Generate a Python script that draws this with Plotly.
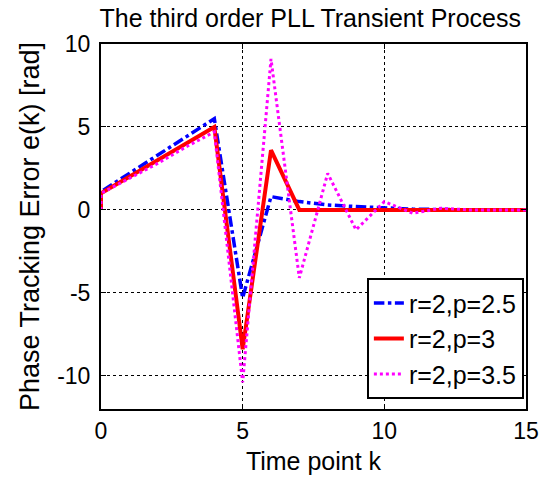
import plotly.graph_objects as go

k = [0, 0, 1, 2, 3, 4, 5, 6, 7, 8, 9, 10, 11, 12, 13, 14, 15]
e_p25 = [0, 1.1, 2.2, 3.3, 4.4, 5.5, -5.3, 0.8, 0.5, 0.3, 0.2, 0.1, 0.05, 0.02, 0.0, 0.0, 0.0]
e_p3 = [0, 1.0, 2.0, 3.0, 4.0, 5.0, -8.4, 3.6, 0.0, 0.0, 0.0, 0.0, 0.0, 0.0, 0.0, 0.0, 0.0]
e_p35 = [0, 1.0, 1.9, 2.8, 3.8, 4.7, -10.4, 9.1, -4.1, 2.2, -1.2, 0.5, -0.2, 0.1, 0.0, 0.0, 0.0]
names = ["r=2,p=2.5", "r=2,p=3", "r=2,p=3.5"]
x_ticks = [0, 5, 10, 15]
y_ticks = [-10, -5, 0, 5, 10]
y_ticktext = ["-10", "-5", "0", "5", "10"]

fig = go.Figure()
fig.add_trace(go.Scatter(x=k, y=e_p25, mode="lines", name=names[0],
                         line=dict(color="#0000ff", width=3.5, dash="dashdot")))
fig.add_trace(go.Scatter(x=k, y=e_p3, mode="lines", name=names[1],
                         line=dict(color="#ff0000", width=4)))
fig.add_trace(go.Scatter(x=k, y=e_p35, mode="lines", name=names[2],
                         line=dict(color="#ff00ff", width=3, dash="dot")))

axis_common = dict(showline=True, linecolor="black", linewidth=2, mirror="ticks",
                   ticks="inside", ticklen=5, tickcolor="black",
                   showgrid=True, gridcolor="black", gridwidth=1, griddash="dot",
                   zeroline=False, tickfont=dict(size=23, color="black"))

fig.update_xaxes(range=[0, 15], tickvals=x_ticks,
                 title=dict(text="Time point k", font=dict(size=25, color="black"), standoff=10),
                 **axis_common)
fig.update_yaxes(range=[-12, 10], tickvals=y_ticks, ticktext=y_ticktext,
                 ticklabelstandoff=4,
                 title=dict(text="Phase Tracking Error e(k) [rad]", font=dict(size=27, color="black"), standoff=10),
                 **axis_common)

fig.update_layout(
    width=551, height=483,
    margin=dict(l=101, r=23, t=44, b=74),
    paper_bgcolor="white", plot_bgcolor="white",
    font=dict(family="Liberation Sans, Arial, sans-serif", color="black"),
    title=dict(text="The third order PLL Transient Process", x=0.563, xanchor="center",
               y=0.963, yanchor="middle", font=dict(size=25, color="black")),
    legend=dict(x=0.995, xanchor="right", y=0.027, yanchor="bottom",
                bgcolor="white", bordercolor="black", borderwidth=2,
                font=dict(size=25, color="black"), tracegroupgap=0),
    showlegend=True,
)

fig.write_html("out.html")
